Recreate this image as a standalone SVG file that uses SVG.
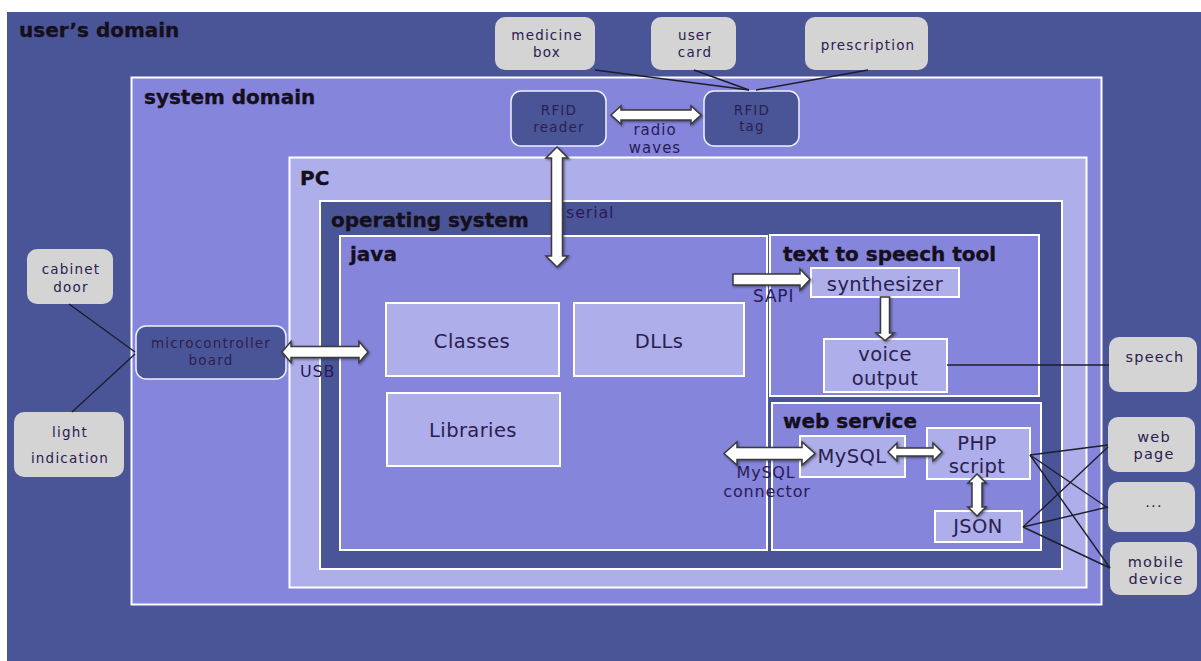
<svg xmlns="http://www.w3.org/2000/svg" width="1201" height="661" viewBox="0 0 1201 661">
  <defs>
    <filter id="shadow" x="-20%" y="-20%" width="140%" height="140%">
      <feDropShadow dx="1.2" dy="1.2" stdDeviation="0.8" flood-color="#202030" flood-opacity="0.6"/>
    </filter>
    <style>
      .zone-dark { fill: #4a5597; }
      .zone-mid { fill: #8585dc; stroke: #ffffff; stroke-width: 2; }
      .zone-light { fill: #aeaeea; stroke: #ffffff; stroke-width: 2; }
      .zone-os { fill: #4a5597; stroke: #ffffff; stroke-width: 2; }
      .part { fill: #aeaeea; stroke: #ffffff; stroke-width: 2; }
      .device { fill: #4a5597; stroke: #eef0ff; stroke-width: 1.5; }
      .thing { fill: #d4d4d4; }
      .title { font-family: "DejaVu Sans", sans-serif; font-weight: bold; font-size: 20px; fill: #150f1c; stroke: #150f1c; stroke-width: 0.35; }
      .txt { font-family: "DejaVu Sans", sans-serif; font-size: 19.5px; letter-spacing: 0.4px; fill: #2a2050; text-anchor: middle; }
      .small { font-family: "DejaVu Sans", sans-serif; font-size: 13.5px; letter-spacing: 1.2px; fill: #2a2050; text-anchor: middle; }
      .side { font-family: "DejaVu Sans", sans-serif; font-size: 14.5px; letter-spacing: 1.2px; fill: #2a2050; text-anchor: middle; }
      .label { font-family: "DejaVu Sans", sans-serif; font-size: 16px; letter-spacing: 0.8px; fill: #2a1a55; }
      .wire { stroke: #1e1e2a; stroke-width: 1.4; fill: none; }
      .arrow { fill: #ffffff; stroke: #3a3a3a; stroke-width: 1.5; stroke-linejoin: miter; filter: url(#shadow); }
    </style>
  </defs>

  <!-- page -->
  <rect x="0" y="0" width="1201" height="661" fill="#ffffff"/>

  <!-- nested containers -->
  <g id="users-domain">
    <rect class="zone-dark" x="7" y="12" width="1194" height="649"/>
    <text class="title" x="19" y="37">user’s domain</text>
  </g>
  <g id="system-domain">
    <rect class="zone-mid" x="131.5" y="77.5" width="970" height="527"/>
    <text class="title" x="144" y="104">system domain</text>
  </g>
  <g id="pc">
    <rect class="zone-light" x="289.5" y="157.5" width="797" height="430"/>
    <text class="title" x="300" y="185">PC</text>
  </g>
  <g id="operating-system">
    <rect class="zone-os" x="320" y="201" width="742" height="368"/>
    <text class="title" x="331" y="227">operating system</text>
  </g>
  <g id="java">
    <rect class="zone-mid" x="340" y="236" width="427" height="314"/>
    <text class="title" x="350" y="261">java</text>
  </g>
  <g id="tts-tool">
    <rect class="zone-mid" x="770" y="235" width="269" height="161"/>
    <text class="title" x="783" y="261">text to speech tool</text>
  </g>
  <g id="web-service">
    <rect class="zone-mid" x="772" y="403" width="269" height="147"/>
    <text class="title" x="783" y="428">web service</text>
  </g>

  <!-- java parts -->
  <g id="classes">
    <rect class="part" x="386" y="303" width="173" height="73"/>
    <text class="txt" x="472" y="348">Classes</text>
  </g>
  <g id="dlls">
    <rect class="part" x="574" y="303" width="170" height="73"/>
    <text class="txt" x="659" y="348">DLLs</text>
  </g>
  <g id="libraries">
    <rect class="part" x="387" y="393" width="173" height="73"/>
    <text class="txt" x="473" y="437">Libraries</text>
  </g>

  <!-- text to speech parts -->
  <g id="synthesizer">
    <rect class="part" x="811" y="268" width="148" height="29"/>
    <text class="txt" x="885" y="291">synthesizer</text>
  </g>
  <g id="voice-output">
    <rect class="part" x="824" y="339" width="123" height="53"/>
    <text class="txt" x="885" y="361">voice</text>
    <text class="txt" x="885" y="385">output</text>
  </g>

  <!-- web service parts -->
  <g id="mysql">
    <rect class="part" x="800" y="436" width="105" height="41"/>
    <text class="txt" x="852" y="463">MySQL</text>
  </g>
  <g id="php-script">
    <rect class="part" x="927" y="428" width="103" height="51"/>
    <text class="txt" x="977" y="450">PHP</text>
    <text class="txt" x="977" y="473">script</text>
  </g>
  <g id="json">
    <rect class="part" x="935" y="511" width="87" height="31"/>
    <text class="txt" x="978" y="533">JSON</text>
  </g>

  <!-- hardware -->
  <g id="rfid-reader">
    <rect class="device" x="511" y="91" width="95" height="55" rx="10"/>
    <text class="small" x="559" y="115">RFID</text>
    <text class="small" x="559" y="132">reader</text>
  </g>
  <g id="rfid-tag">
    <rect class="device" x="704" y="91" width="95" height="55" rx="10"/>
    <text class="small" x="752" y="115">RFID</text>
    <text class="small" x="752" y="131">tag</text>
  </g>
  <g id="microcontroller-board">
    <rect class="device" x="136" y="326" width="150" height="53" rx="10"/>
    <text class="small" x="211" y="348">microcontroller</text>
    <text class="small" x="211" y="365">board</text>
  </g>

  <!-- things in the user's world -->
  <g id="medicine-box">
    <rect class="thing" x="495" y="17" width="100" height="53" rx="10"/>
    <text class="small" x="547" y="40">medicine</text>
    <text class="small" x="547" y="57">box</text>
  </g>
  <g id="user-card">
    <rect class="thing" x="651" y="17" width="85" height="53" rx="10"/>
    <text class="small" x="695" y="40">user</text>
    <text class="small" x="695" y="57">card</text>
  </g>
  <g id="prescription">
    <rect class="thing" x="805" y="17" width="123" height="53" rx="10"/>
    <text class="small" x="868" y="50">prescription</text>
  </g>
  <g id="cabinet-door">
    <rect class="thing" x="27" y="249" width="86" height="55" rx="10"/>
    <text class="small" x="71" y="274">cabinet</text>
    <text class="small" x="71" y="292">door</text>
  </g>
  <g id="light-indication">
    <rect class="thing" x="14" y="412" width="110" height="65" rx="10"/>
    <text class="small" x="70" y="437">light</text>
    <text class="small" x="70" y="463">indication</text>
  </g>
  <g id="speech">
    <rect class="thing" x="1109" y="337" width="88" height="55" rx="10"/>
    <text class="side" x="1155" y="362">speech</text>
  </g>
  <g id="web-page">
    <rect class="thing" x="1108" y="417" width="87" height="55" rx="10"/>
    <text class="side" x="1154" y="442">web</text>
    <text class="side" x="1154" y="459">page</text>
  </g>
  <g id="other-clients">
    <rect class="thing" x="1108" y="482" width="87" height="50" rx="10"/>
    <text class="side" x="1154" y="507">...</text>
  </g>
  <g id="mobile-device">
    <rect class="thing" x="1110" y="542" width="87" height="53" rx="10"/>
    <text class="side" x="1156" y="567">mobile</text>
    <text class="side" x="1156" y="584">device</text>
  </g>

  <!-- connectors -->
  <g id="connectors">
    <line class="wire" x1="595" y1="70" x2="749" y2="90"/>
    <line class="wire" x1="694" y1="70" x2="749" y2="90"/>
    <line class="wire" x1="868" y1="70" x2="756" y2="90"/>
    <line class="wire" x1="69" y1="304" x2="135" y2="352"/>
    <line class="wire" x1="72" y1="412" x2="135" y2="354"/>
    <line class="wire" x1="947" y1="365" x2="1109" y2="365"/>
    <line class="wire" x1="1030" y1="455" x2="1108" y2="445"/>
    <line class="wire" x1="1030" y1="455" x2="1108" y2="508"/>
    <line class="wire" x1="1030" y1="455" x2="1110" y2="568"/>
    <line class="wire" x1="1023" y1="527" x2="1108" y2="447"/>
    <line class="wire" x1="1023" y1="527" x2="1108" y2="507"/>
    <line class="wire" x1="1023" y1="527" x2="1110" y2="568"/>

    <!-- block arrows -->
    <path class="arrow" d="M557,147 L568,158 L562.5,158 L562.5,256 L568,256 L557,267 L546,256 L551.5,256 L551.5,158 L546,158 Z"/>
    <path class="arrow" d="M611,115 L621,106 L621,110 L691,110 L691,106 L701,115 L691,124 L691,120 L621,120 L621,124 Z"/>
    <path class="arrow" d="M282,352 L291,341.5 L291,346.5 L359,346.5 L359,341.5 L368,352 L359,362.5 L359,357.5 L291,357.5 L291,362.5 Z"/>
    <path class="arrow" d="M733,274 L800,274 L800,269 L810,279.5 L800,290 L800,285 L733,285 Z"/>
    <path class="arrow" d="M880.5,297 L889.5,297 L889.5,333 L894,333 L885,340.5 L876,333 L880.5,333 Z"/>
    <path class="arrow" d="M724,453.5 L737,442 L737,447.5 L802,447.5 L802,442 L815,453.5 L802,465 L802,459.5 L737,459.5 L737,465 Z"/>
    <path class="arrow" d="M888,452 L897,443 L897,448 L933,448 L933,443 L942,452 L933,461 L933,456 L897,456 L897,461 Z"/>
    <path class="arrow" d="M977,474 L986,483 L982,483 L982,507 L986,507 L977,516 L968,507 L972,507 L972,483 L968,483 Z"/>

    <text class="label" x="566" y="218">serial</text>
    <text class="label" x="655" y="135" text-anchor="middle" style="font-size:15px;letter-spacing:1px">radio</text>
    <text class="label" x="655" y="153" text-anchor="middle" style="font-size:15px;letter-spacing:1px">waves</text>
    <text class="label" x="300" y="377">USB</text>
    <text class="label" x="753" y="302" style="font-size:17px">SAPI</text>
    <text class="label" x="766" y="478" text-anchor="middle">MySQL</text>
    <text class="label" x="767" y="497" text-anchor="middle">connector</text>
  </g>
</svg>
